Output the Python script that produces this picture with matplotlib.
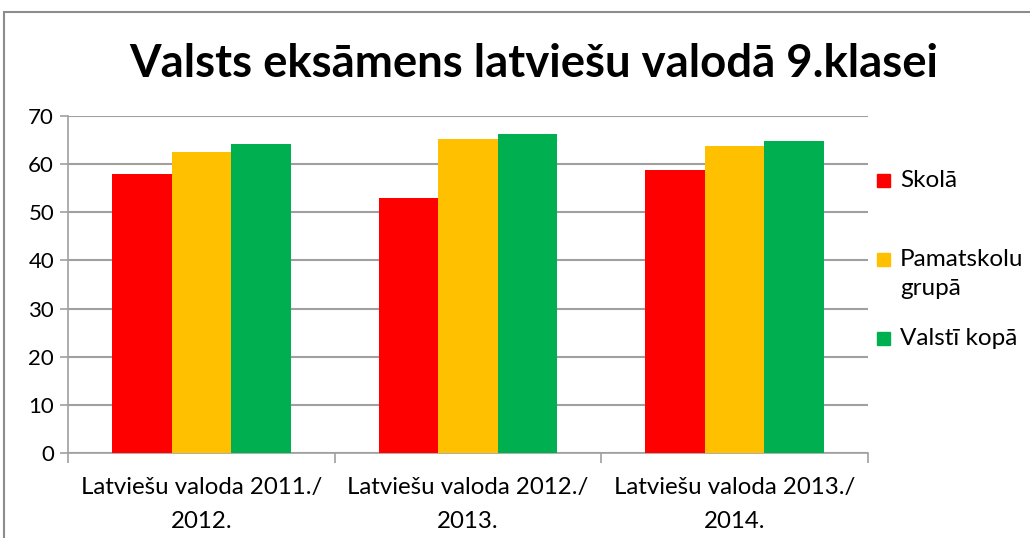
import matplotlib.pyplot as plt
import matplotlib.patches as mpatches
import numpy as np

plt.rcParams['font.family'] = ['Lato', 'DejaVu Sans']

# data
categories = ["Latviešu valoda 2011./\n2012.",
              "Latviešu valoda 2012./\n2013.",
              "Latviešu valoda 2013./\n2014."]
skola = [58.0, 53.0, 58.7]
grupa = [62.5, 65.2, 63.8]
valsti = [64.2, 66.3, 64.9]
series_names = ["Skolā", "Pamatskolu\ngrupā", "Valstī kopā"]
colors = ["#FF0000", "#FFC000", "#00B050"]

fig = plt.figure(figsize=(10.30, 5.38), dpi=100)
ax = fig.add_axes([68/1030, 1 - 453/538, 800/1030, 337/538])

x = np.arange(len(categories))
w = 0.223
for i, vals in enumerate([skola, grupa, valsti]):
    ax.bar(x + (i - 1) * w, vals, width=w, color=colors[i], zorder=3)

ax.set_xlim(-0.5, 2.5)
ax.set_ylim(0, 70)
ax.set_yticks(range(0, 71, 10))
ax.grid(axis='y', color='#A0A0A0', linewidth=1.5, zorder=0)
ax.tick_params(axis='y', labelsize=16, length=6, color='#A0A0A0', width=1.2, pad=4)

# category boundaries get the tick marks, labels sit in between
ax.set_xticks([-0.5, 0.5, 1.5, 2.5])
ax.set_xticklabels([])
ax.tick_params(axis='x', which='major', length=7, color='#A0A0A0', width=1.2)
ax.set_xticks(x, minor=True)
ax.set_xticklabels(categories, minor=True, fontsize=17.3, linespacing=1.8)
ax.tick_params(axis='x', which='minor', length=0, pad=17)

for s in ['top', 'right']:
    ax.spines[s].set_visible(False)
for s in ['left', 'bottom']:
    ax.spines[s].set_color('#A0A0A0')
    ax.spines[s].set_linewidth(1.2)

fig.text(0.518, 1 - 64/538, "Valsts eksāmens latviešu valodā 9.klasei",
         ha='center', va='center', fontsize=32.8, fontweight='bold')

# legend drawn by hand
leg_y = [180, 259, 338]
for name, c, yy in zip(series_names, colors, leg_y):
    fig.patches.append(mpatches.Rectangle((877/1030, 1 - (yy + 7)/538), 13/1030, 13/538,
                                          transform=fig.transFigure, color=c))
    fig.text(900/1030, 1 - (yy - 10)/538, name, ha='left', va='top',
             fontsize=17.5, linespacing=1.45)

# chart frame
fig.patches.append(mpatches.Rectangle((4/1030, -0.1), 1.2, 1 - 12/538 + 0.1, transform=fig.transFigure,
                                      fill=False, edgecolor='#8C8C8C', linewidth=1.5))

fig.savefig("out.png", dpi=100)
